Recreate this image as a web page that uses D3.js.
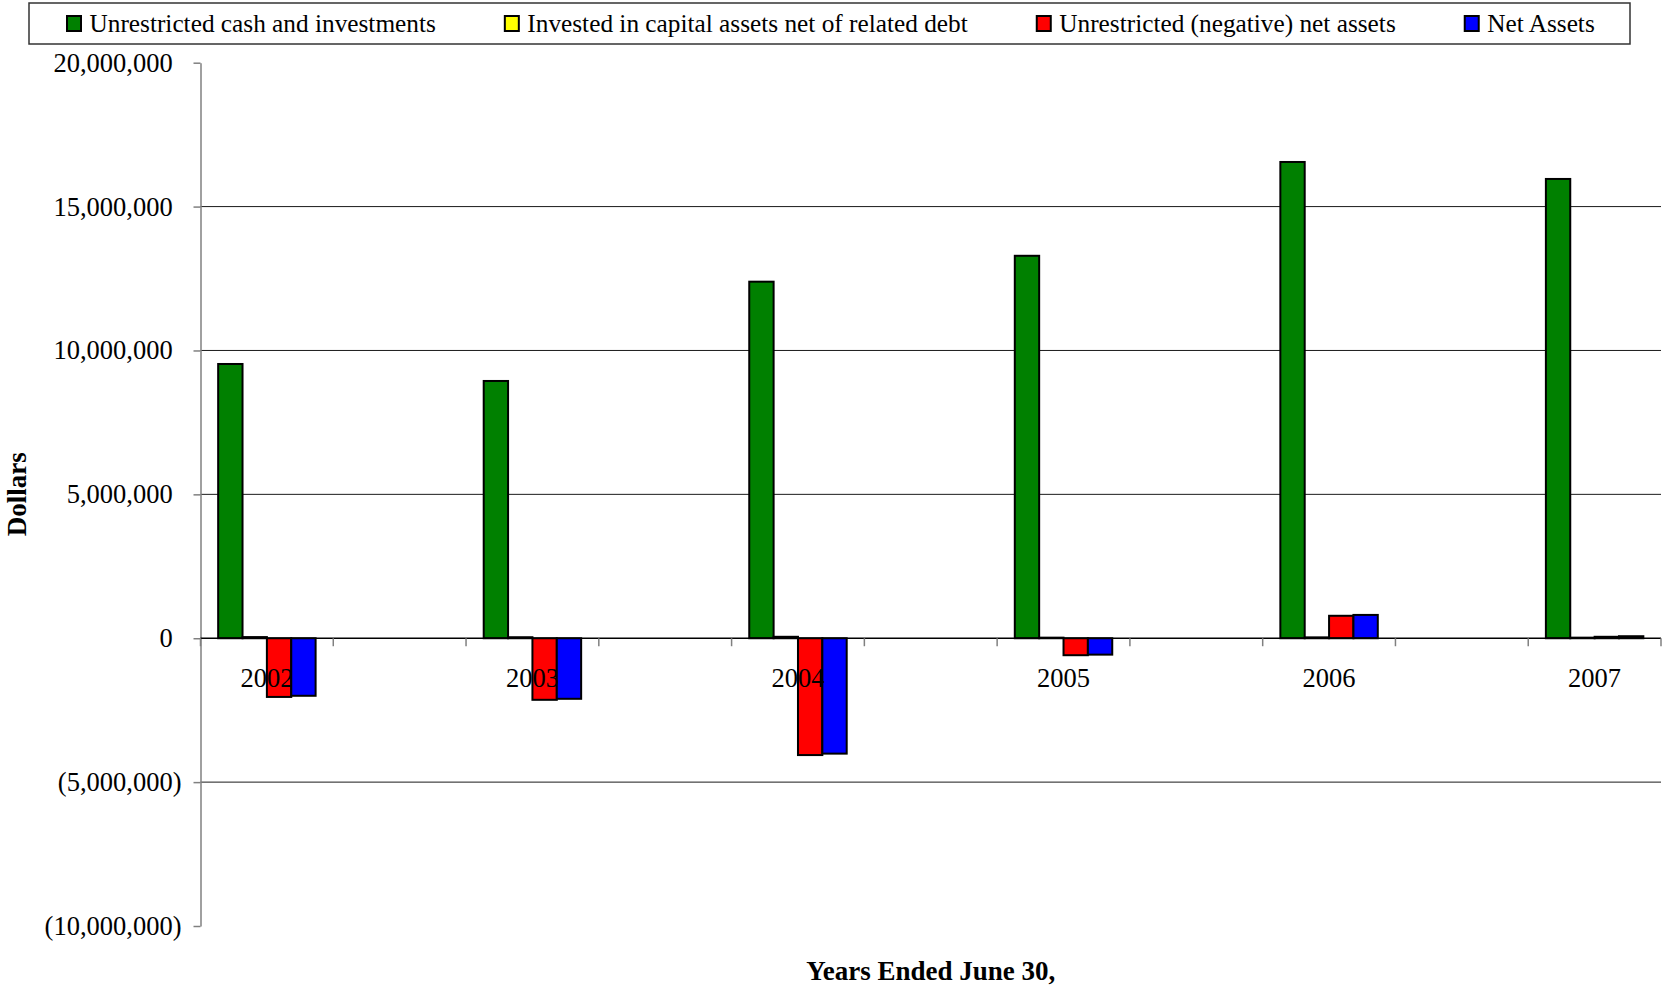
<!DOCTYPE html>
<html>
<head>
<meta charset="utf-8">
<script src="https://cdn.jsdelivr.net/npm/d3@7/dist/d3.min.js"></script>
<style>
  html, body { margin: 0; padding: 0; background: #fff; }
  svg { display: block; font-family: "Liberation Serif", "Times New Roman", serif; }
</style>
</head>
<body>
<svg id="chart" width="1663" height="985"></svg>
<script>
// Fiscal years shown on the category axis
const years = ["2002", "2003", "2004", "2005", "2006", "2007"];

// Series values in dollars, one entry per year
const seriesNames = [
  "Unrestricted cash and investments",
  "Invested in capital assets net of related debt",
  "Unrestricted (negative) net assets",
  "Net Assets"
];
const cashInvestments = [9530000, 8940000, 12390000, 13290000, 16550000, 15960000];
const capitalAssets   = [40000, 35000, 50000, 20000, 30000, 20000];
const unrestrictedNet = [-2040000, -2140000, -4060000, -590000, 780000, 50000];
const netAssets       = [-2000000, -2105000, -4010000, -570000, 810000, 70000];
const seriesColors = ["#008000", "#ffff00", "#ff0000", "#0000ff"];

// Value axis ticks
const yTicks = [-10000000, -5000000, 0, 5000000, 10000000, 15000000, 20000000];

const seriesValues = [cashInvestments, capitalAssets, unrestrictedNet, netAssets];

// Each year is followed by an empty slot on the category axis
const slots = years.flatMap((y, i) => i < years.length - 1 ? [y, ""] : [y]);

const svg = d3.select("#chart");
const plot = { left: 200.5, right: 1661, top: 62.7, bottom: 926 };

const x = d3.scaleBand()
  .domain(d3.range(slots.length))
  .range([plot.left, plot.right])
  .paddingInner(0).paddingOuter(0);

const x1 = d3.scaleBand()
  .domain(d3.range(seriesNames.length))
  .range([0, x.bandwidth()])
  .paddingInner(0).paddingOuter(0.725);

const y = d3.scaleLinear()
  .domain([d3.min(yTicks), d3.max(yTicks)])
  .range([plot.bottom, plot.top]);

// Horizontal gridlines (not at the axis ends)
svg.append("g")
  .selectAll("line")
  .data(yTicks.filter(t => t !== 0 && t !== d3.min(yTicks) && t !== d3.max(yTicks)))
  .join("line")
  .attr("x1", plot.left).attr("x2", plot.right)
  .attr("y1", d => y(d)).attr("y2", d => y(d))
  .attr("stroke", "#1a1a1a").attr("stroke-width", 1);

// Value axis
const fmt = d3.format(",");
const yAxis = svg.append("g")
  .attr("transform", `translate(${plot.left},0)`)
  .call(d3.axisLeft(y)
    .tickValues(yTicks)
    .tickSize(7)
    .tickSizeOuter(0)
    .tickPadding(12)
    .tickFormat(d => d < 0 ? `(${fmt(-d)})` : fmt(d)));
yAxis.attr("font-family", null).attr("font-size", null);
yAxis.select(".domain").attr("stroke", "#808080").attr("stroke-width", 1.5);
yAxis.selectAll(".tick line").attr("stroke", "#808080").attr("stroke-width", 1.5);
yAxis.selectAll(".tick text")
  .attr("font-size", 26.5)
  .attr("fill", "#000")
  .attr("dy", "0.32em")
  .attr("dx", d => d >= 0 ? "-0.333em" : 0);

// Bars
const groups = svg.append("g")
  .selectAll("g")
  .data(years)
  .join("g")
  .attr("transform", d => `translate(${x(slots.indexOf(d))},0)`);

groups.selectAll("rect")
  .data((d, i) => seriesValues.map((vals, s) => ({ s, v: vals[i] })))
  .join("rect")
  .attr("x", d => x1(d.s))
  .attr("width", x1.bandwidth())
  .attr("y", d => y(Math.max(0, d.v)))
  .attr("height", d => Math.abs(y(d.v) - y(0)))
  .attr("fill", d => seriesColors[d.s])
  .attr("stroke", "#000")
  .attr("stroke-width", 2);

// Category axis at zero
svg.append("line")
  .attr("x1", plot.left).attr("x2", plot.right)
  .attr("y1", y(0)).attr("y2", y(0))
  .attr("stroke", "#000").attr("stroke-width", 1.5);

svg.append("g")
  .selectAll("line")
  .data(d3.range(slots.length + 1))
  .join("line")
  .attr("x1", k => plot.left + k * x.step())
  .attr("x2", k => plot.left + k * x.step())
  .attr("y1", y(0)).attr("y2", y(0) + 8)
  .attr("stroke", "#808080").attr("stroke-width", 1.5);

const xAxis = svg.append("g")
  .attr("transform", `translate(0,${y(0)})`)
  .call(d3.axisBottom(x)
    .tickSize(0)
    .tickPadding(30)
    .tickFormat(i => slots[i]));
xAxis.attr("font-family", null).attr("font-size", null);
xAxis.select(".domain").remove();
xAxis.selectAll(".tick text")
  .attr("font-size", 26.5)
  .attr("fill", "#000");

// Axis titles
svg.append("text")
  .attr("x", (plot.left + plot.right) / 2)
  .attr("y", 980)
  .attr("text-anchor", "middle")
  .attr("font-size", 27)
  .attr("font-weight", "bold")
  .text("Years Ended June 30,");

svg.append("text")
  .attr("transform", `translate(26,${(plot.top + plot.bottom) / 2}) rotate(-90)`)
  .attr("text-anchor", "middle")
  .attr("font-size", 27)
  .attr("font-weight", "bold")
  .text("Dollars");

// Legend
const legend = svg.append("g");
legend.append("rect")
  .attr("x", 29).attr("y", 3)
  .attr("width", 1601).attr("height", 41)
  .attr("fill", "#fff")
  .attr("stroke", "#333").attr("stroke-width", 1.5);

let lx = 67;
seriesNames.forEach((name, s) => {
  legend.append("rect")
    .attr("x", lx).attr("y", 16)
    .attr("width", 14).attr("height", 15)
    .attr("fill", seriesColors[s])
    .attr("stroke", "#000").attr("stroke-width", 2);
  const t = legend.append("text")
    .attr("x", lx + 22.5).attr("y", 32)
    .attr("font-size", 25.3)
    .text(name);
  lx += 22.5 + t.node().getComputedTextLength() + 69;
});
</script>
</body>
</html>
